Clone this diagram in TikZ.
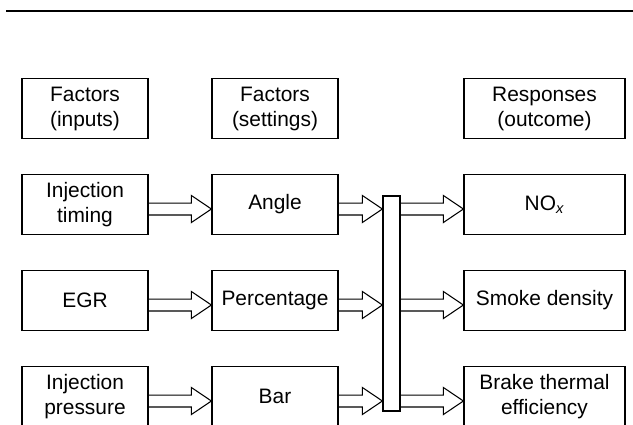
\documentclass[tikz,border=0pt]{standalone}
\usepackage{fontspec}
\setmainfont{Liberation Sans}
\usetikzlibrary{calc}
\tikzstyle{factor} = [draw,line width=0.7pt,minimum width=2.52cm,minimum height=1.2cm,inner sep=0pt,align=center,font=\fontsize{11.9}{14.2}\selectfont]
\tikzstyle{response} = [factor,minimum width=3.22cm]
\tikzstyle{joinbar} = [draw,line width=0.7pt,minimum width=0.34cm,minimum height=4.3cm,inner sep=0pt]
\tikzstyle{hollow} = [draw,line width=0.6pt,line join=miter]

% hollow block arrow: starts at #1, tip at the x of #2
\newcommand{\blockarrow}[2]{%
  \path[hollow] let \p1=#1, \p2=#2 in
    (\x1,\y1+3.4pt) -- (\x2-11.4pt,\y1+3.4pt) -- (\x2-11.4pt,\y1+7.7pt)
    -- (\x2,\y1) -- (\x2-11.4pt,\y1-7.7pt) -- (\x2-11.4pt,\y1-3.4pt) -- (\x1,\y1-3.4pt);}

\begin{document}
\begin{tikzpicture}[x=0.02cm,y=-0.02cm]
    \useasboundingbox (0,0) rectangle (633,424);
    \clip (0,0) rectangle (633,424);
    \draw[line width=0.8pt] (6,11) -- (633,11);

    % First we draw the headings
    \foreach \pos/ \name/ \txt in {{(85,108.5)/inputs/Factors\\(inputs)},{(275,108.5)/settings/Factors\\(settings)}}
        \node[factor] (\name) at \pos {\txt};
    \node[response] (outcome) at (544.5,108.5) {Responses\\(outcome)};

    % Then the factors and their settings
    \foreach \pos/ \name/ \txt in {{(85,204.5)/timing/Injection\\timing},{(85,300.5)/egr/EGR},{(85,396.5)/pressure/Injection\\pressure}}
        \node[factor] (\name) at \pos {\txt};

    \foreach \pos/ \name/ \txt in {{(275,204.5)/angle/Angle},{(275,300.5)/percentage/Percentage},{(275,396.5)/barset/Bar}}
        \node[factor] (\name) at \pos {\txt};

    \node[joinbar] (joint) at (391.5,303.5) {};

    % Responses
    \foreach \pos/ \name/ \txt in {{(544.5,204.5)/nox/NO\textsubscript{\itshape x}},{(544.5,300.5)/smoke/Smoke density},{(544.5,396.5)/brake/Brake thermal\\efficiency}}
        \node[response] (\name) at \pos {\txt};

    % Connect the boxes with hollow arrows
    \foreach \source/ \dest in {timing/angle, egr/percentage, pressure/barset}
        {\blockarrow{($(\source.east)+(0,4.5)$)}{(\dest.west)}}

    \foreach \source in {angle, percentage, barset}
        {\blockarrow{($(\source.east)+(0,4.5)$)}{(joint.west)}}

    \foreach \dest in {nox, smoke, brake}
        {\blockarrow{($(joint.east |- \dest)+(0,4.5)$)}{(\dest.west)}}
\end{tikzpicture}
\end{document}
